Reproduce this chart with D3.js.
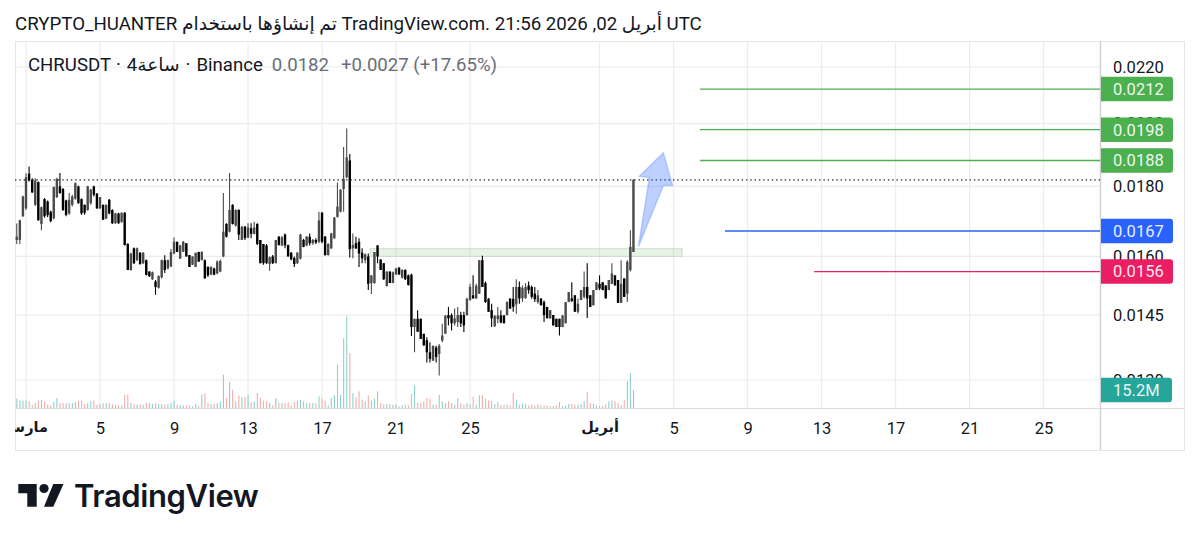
<!DOCTYPE html>
<html>
<head>
<meta charset="utf-8">
<script src="https://cdn.jsdelivr.net/npm/d3@7"></script>
<style>
    html, body { margin: 0; background: #fff; }
    svg { display: block; font-family: Roboto, "DejaVu Sans", sans-serif; }
</style>
</head>
<body>
<svg id="viz" width="1200" height="542"></svg>
<script>
// --- Data: prices are in 1e-5 USDT, one row = 10 four-hour candles ---
const opens = [
    1645,1645,1712,1735,1839,1820,1745,1813,1690,1762,
    1755,1725,1706,1768,1800,1792,1758,1720,1745,1763,
    1800,1762,1745,1730,1750,1800,1778,1735,1745,1705,
    1760,1730,1692,1720,1695,1722,1634,1564,1622,1590,
    1610,1582,1590,1560,1540,1534,1518,1545,1590,1568,
    1573,1608,1640,1594,1613,1636,1604,1578,1572,1612,
    1590,1590,1572,1552,1568,1555,1560,1600,1690,1668,
    1745,1685,1730,1645,1682,1652,1678,1662,1690,1645,
    1634,1630,1580,1600,1582,1654,1630,1660,1631,1610,
    1596,1582,1594,1645,1630,1654,1636,1645,1640,1722,
    1654,1604,1622,1650,1710,1725,1792,1828,1880,1622,
    1636,1640,1610,1590,1600,1530,1530,1630,1592,1582,
    1522,1560,1530,1552,1570,1544,1564,1550,1552,1421,
    1441,1441,1405,1390,1362,1343,1373,1358,1389,1405,
    1450,1450,1430,1433,1450,1450,1450,1487,1499,1491,
    1503,1590,1530,1490,1462,1423,1440,1449,1449,1450,
    1490,1490,1476,1520,1491,1492,1524,1520,1503,1482,
    1491,1482,1470,1442,1450,1441,1441,1421,1430,1482,
    1491,1499,1458,1487,1495,1520,1499,1474,1512,1528,
    1532,1524,1512,1528,1550,1538,1480,1542,1503,1564,
    1612
];
const highs = [
    1691,1702,1772,1840,1861,1825,1825,1815,1740,1765,
    1758,1728,1800,1826,1841,1795,1760,1780,1775,1812,
    1802,1764,1746,1802,1793,1802,1780,1768,1746,1746,
    1762,1732,1722,1722,1723,1724,1636,1610,1624,1624,
    1612,1612,1592,1561,1560,1538,1550,1592,1603,1592,
    1620,1652,1640,1632,1642,1636,1604,1600,1610,1613,
    1614,1592,1574,1574,1570,1590,1592,1780,1692,1841,
    1747,1732,1732,1684,1684,1692,1692,1696,1692,1645,
    1634,1634,1600,1604,1645,1656,1656,1663,1632,1612,
    1600,1612,1662,1648,1656,1663,1648,1650,1725,1724,
    1656,1636,1665,1710,1812,1792,1923,1984,1901,1663,
    1654,1650,1622,1608,1608,1550,1612,1631,1592,1582,
    1560,1560,1560,1570,1572,1566,1566,1552,1554,1441,
    1462,1441,1405,1397,1385,1377,1377,1381,1429,1449,
    1470,1454,1466,1470,1458,1458,1493,1528,1550,1528,
    1590,1602,1534,1492,1478,1450,1470,1462,1450,1484,
    1492,1520,1540,1534,1524,1530,1534,1524,1520,1512,
    1491,1486,1470,1462,1450,1441,1441,1450,1482,1507,
    1532,1499,1491,1512,1560,1582,1499,1512,1532,1550,
    1532,1524,1538,1582,1550,1538,1590,1542,1590,1672,
    1822
];
const lows = [
    1634,1634,1710,1730,1815,1780,1742,1700,1672,1708,
    1710,1695,1703,1765,1778,1728,1712,1716,1740,1760,
    1748,1716,1716,1728,1745,1770,1733,1733,1702,1704,
    1718,1690,1690,1690,1694,1630,1564,1562,1580,1588,
    1578,1580,1550,1546,1538,1500,1516,1542,1556,1566,
    1572,1606,1612,1594,1612,1600,1572,1577,1572,1586,
    1590,1542,1546,1550,1550,1553,1558,1598,1652,1666,
    1688,1683,1645,1645,1645,1650,1650,1660,1631,1582,
    1578,1580,1562,1580,1582,1630,1628,1622,1600,1590,
    1572,1580,1592,1625,1628,1630,1632,1634,1636,1636,
    1602,1602,1620,1648,1708,1723,1725,1825,1597,1595,
    1620,1572,1582,1582,1512,1502,1528,1582,1564,1538,
    1522,1530,1530,1552,1552,1542,1538,1524,1400,1362,
    1410,1393,1377,1339,1339,1343,1339,1310,1385,1405,
    1425,1413,1425,1421,1421,1409,1448,1485,1491,1490,
    1502,1520,1480,1458,1421,1421,1430,1430,1430,1449,
    1465,1458,1453,1478,1482,1490,1503,1490,1482,1478,
    1474,1433,1442,1441,1425,1421,1401,1421,1430,1482,
    1482,1458,1454,1487,1491,1443,1470,1474,1512,1512,
    1512,1491,1512,1528,1524,1480,1480,1495,1482,1560,
    1612
];
const closes = [
    1654,1700,1770,1828,1818,1782,1818,1700,1738,1712,
    1715,1698,1798,1823,1780,1730,1716,1760,1770,1810,
    1750,1720,1722,1800,1790,1775,1735,1768,1702,1745,
    1720,1692,1720,1692,1722,1631,1564,1608,1582,1622,
    1580,1610,1551,1548,1558,1520,1548,1590,1564,1590,
    1612,1640,1612,1630,1640,1600,1572,1600,1610,1586,
    1612,1542,1550,1572,1552,1586,1588,1668,1654,1730,
    1690,1730,1660,1682,1650,1680,1662,1680,1634,1582,
    1582,1582,1598,1582,1645,1631,1652,1630,1600,1592,
    1580,1610,1660,1626,1654,1636,1645,1638,1700,1640,
    1604,1634,1663,1708,1740,1790,1823,1890,1620,1631,
    1622,1608,1595,1606,1528,1550,1612,1600,1564,1540,
    1560,1530,1558,1568,1552,1564,1540,1525,1421,1441,
    1410,1393,1378,1362,1347,1377,1351,1377,1401,1449,
    1442,1430,1442,1450,1430,1425,1490,1520,1491,1523,
    1590,1520,1482,1458,1442,1448,1449,1432,1430,1482,
    1466,1470,1520,1491,1518,1520,1512,1495,1489,1499,
    1474,1450,1442,1462,1425,1421,1421,1449,1482,1507,
    1485,1458,1478,1512,1520,1491,1470,1512,1532,1516,
    1512,1491,1538,1555,1524,1480,1528,1495,1586,1626,
    1820
];
// volume in millions
const volumes = [
    7.9,6.2,6.2,6.2,5.6,2.8,4.2,6.2,7.0,5.6,
    2.8,2.2,5.1,8.4,4.2,4.2,4.2,4.2,4.2,5.1,
    6.2,6.2,3.4,4.2,5.6,6.2,2.8,3.4,4.2,4.2,
    4.2,3.4,2.8,2.2,2.2,11.2,11.2,4.2,3.4,2.8,
    2.8,2.8,4.2,4.2,3.4,4.2,3.4,3.4,2.8,3.4,
    4.2,6.2,2.8,2.2,2.2,2.2,2.2,1.4,3.4,1.4,
    11.2,12.6,4.2,3.4,3.4,4.2,5.6,28.1,8.4,21.9,
    15.5,5.6,10.7,9.3,9.3,11.2,5.1,5.6,12.6,8.4,
    6.2,5.6,4.2,2.2,8.4,4.2,4.2,4.2,5.1,2.2,
    5.1,6.2,7.0,5.6,4.2,4.2,4.2,4.2,9.8,7.9,
    6.2,2.2,8.4,10.7,36.5,11.2,59.0,77.3,46.4,12.6,
    9.3,14.1,7.0,5.6,10.7,6.2,7.9,14.1,4.2,3.4,
    3.4,3.4,2.8,2.8,1.4,2.2,2.8,2.2,11.8,19.1,
    4.2,4.2,5.6,8.4,7.9,2.8,2.8,11.2,5.6,4.2,
    5.6,4.2,2.8,8.4,4.2,2.8,4.2,3.4,9.3,2.8,
    10.7,10.7,7.9,6.2,6.2,3.4,5.1,2.8,2.8,2.8,
    2.2,12.6,7.0,2.8,3.9,3.4,2.2,2.8,2.2,3.4,
    2.2,2.2,2.2,1.7,1.7,2.2,5.1,1.7,2.2,3.4,
    3.4,2.8,2.8,3.4,5.6,13.5,4.2,3.4,2.2,1.7,
    1.7,2.8,5.6,6.2,5.6,4.2,2.2,7.0,22.5,29.5,
    15.2
];

// days counted from 1 March
const firstCandleDay = -0.5;
const tickDays = [0, 4, 8, 12, 16, 20, 24, 31, 35, 39, 43, 47, 51, 55];
const tickLabels = ["مارس", "5", "9", "13", "17", "21", "25", "أبريل", "5", "9", "13", "17", "21", "25"];
const monthLabels = ["مارس", "أبريل"];
const priceTicks = [2200, 2000, 1800, 1600, 1450, 1300];

const lastPrice = 1820;
const levelPrices = [2120, 1980, 1880, 1670, 1560];
const levelStartDays = [36.43, 36.43, 36.43, 37.78, 42.6];
const levelColors = ["#4caf50", "#4caf50", "#4caf50", "#2962ff", "#e91e63"];
const lastVolume = 15.2;

const zoneDays = [18.6, 35.46];
const zonePrices = [1621, 1600];
const arrowDays = [33.10, 34.45, 34.95, 34.45, 33.15, 33.69];
const arrowPrices = [1626, 1803, 1803, 1905, 1831, 1826];

const CONFIG = {
    left: 15, axisX: 1100, right: 1184, top: 41, paneBottom: 408, bottom: 450,
    colors: {
        grid: "#ececee", frame: "#e6e6e8", axis: "#cfcfd2", text: "#131722",
        up: "#4a4a4a", down: "#000000", volUp: "#8fd0ca", volDown: "#f3adab"
    }
};

const svg = d3.select("#viz");
const rows = d3.range(closes.length);

// --- Scales ---
const x = d3.scaleLinear().domain([-0.595, 58.05]).range([CONFIG.left, CONFIG.axisX]);
const y = d3.scaleLog().domain([2200, 1300]).range([67, 380]);
const yVol = d3.scaleLinear().domain([0, lastVolume]).range([CONFIG.paneBottom, 390]);
const candleX = i => x(firstCandleDay + i / 6);

// --- Frame & Grid ---
const defs = svg.append("defs");
defs.append("clipPath").attr("id", "plot").append("rect")
    .attr("x", CONFIG.left).attr("y", CONFIG.top)
    .attr("width", CONFIG.axisX - CONFIG.left).attr("height", CONFIG.bottom - CONFIG.top);

const frame = svg.append("g").attr("fill", "none");
frame.append("rect")
    .attr("x", CONFIG.left + 0.5).attr("y", CONFIG.top + 0.5)
    .attr("width", CONFIG.right - CONFIG.left).attr("height", CONFIG.bottom - CONFIG.top)
    .attr("stroke", CONFIG.colors.frame);

const grid = svg.append("g").attr("stroke", CONFIG.colors.grid).attr("stroke-width", 1.2);
grid.selectAll("line.v").data(tickDays).join("line")
    .attr("class", "v")
    .attr("x1", d => x(d)).attr("x2", d => x(d))
    .attr("y1", CONFIG.top).attr("y2", CONFIG.paneBottom);
grid.selectAll("line.h").data(priceTicks).join("line")
    .attr("class", "h")
    .attr("x1", CONFIG.left).attr("x2", CONFIG.axisX)
    .attr("y1", d => y(d)).attr("y2", d => y(d));

svg.append("line")
    .attr("x1", CONFIG.left).attr("x2", CONFIG.right)
    .attr("y1", CONFIG.paneBottom + 0.5).attr("y2", CONFIG.paneBottom + 0.5)
    .attr("stroke", "#dcdcde");
svg.append("line")
    .attr("x1", CONFIG.axisX + 0.5).attr("x2", CONFIG.axisX + 0.5)
    .attr("y1", CONFIG.top).attr("y2", CONFIG.bottom)
    .attr("stroke", CONFIG.colors.axis).attr("stroke-width", 1.4);

// --- Axes ---
const yAxis = svg.append("g")
    .attr("transform", `translate(${CONFIG.axisX},0)`)
    .call(d3.axisRight(y).tickValues(priceTicks).tickSize(0).tickPadding(13)
        .tickFormat(d => (d / 1e5).toFixed(4)));
yAxis.select(".domain").remove();
yAxis.selectAll("text")
    .attr("font-family", "Roboto, sans-serif").attr("font-size", 16.5).attr("fill", CONFIG.colors.text);

const xAxis = svg.append("g")
    .attr("transform", `translate(0,${CONFIG.paneBottom})`)
    .attr("clip-path", "url(#plotAxis)")
    .call(d3.axisBottom(x).tickValues(tickDays).tickSize(0).tickPadding(14)
        .tickFormat((d, i) => tickLabels[i]));
xAxis.select(".domain").remove();
xAxis.selectAll("text")
    .attr("font-family", "Roboto, 'DejaVu Sans', sans-serif")
    .attr("font-size", (d, i) => monthLabels.includes(tickLabels[i]) ? 14.5 : 16.5)
    .attr("fill", CONFIG.colors.text)
    .attr("font-weight", (d, i) => monthLabels.includes(tickLabels[i]) ? 700 : 400);
defs.append("clipPath").attr("id", "plotAxis").append("rect")
    .attr("x", CONFIG.left).attr("y", 0)
    .attr("width", CONFIG.axisX - CONFIG.left).attr("height", 60);

// --- Volume ---
const isUp = i => closes[i] >= opens[i];
svg.append("g").selectAll("rect").data(rows).join("rect")
    .attr("x", i => candleX(i) - 0.5)
    .attr("width", 1.1)
    .attr("y", i => yVol(volumes[i]))
    .attr("height", i => yVol(0) - yVol(volumes[i]))
    .attr("fill", i => isUp(i) ? CONFIG.colors.volUp : CONFIG.colors.volDown);

// --- Zone under the candles ---
svg.append("rect")
    .attr("x", x(zoneDays[0])).attr("width", x(zoneDays[1]) - x(zoneDays[0]))
    .attr("y", y(zonePrices[0])).attr("height", y(zonePrices[1]) - y(zonePrices[0]))
    .attr("fill", "#4caf50").attr("fill-opacity", 0.14)
    .attr("stroke", "#cfdccf").attr("stroke-width", 1);

// --- Candles ---
const candles = svg.append("g").attr("clip-path", "url(#plot)");
candles.selectAll("line").data(rows).join("line")
    .attr("x1", i => candleX(i)).attr("x2", i => candleX(i))
    .attr("y1", i => y(highs[i])).attr("y2", i => y(lows[i]))
    .attr("stroke", i => isUp(i) ? CONFIG.colors.up : CONFIG.colors.down)
    .attr("stroke-width", 1.1);
candles.selectAll("rect").data(rows).join("rect")
    .attr("x", i => candleX(i) - 1.2)
    .attr("width", 2.4)
    .attr("y", i => y(Math.max(opens[i], closes[i])))
    .attr("height", i => Math.max(1, Math.abs(y(opens[i]) - y(closes[i]))))
    .attr("fill", i => isUp(i) ? CONFIG.colors.up : CONFIG.colors.down);

// --- Last price line ---
svg.append("line")
    .attr("x1", CONFIG.left).attr("x2", CONFIG.axisX)
    .attr("y1", y(lastPrice)).attr("y2", y(lastPrice))
    .attr("stroke", "#222").attr("stroke-width", 1.3).attr("stroke-dasharray", "1.4 2.9");

// --- Arrow ---
const arrowLine = d3.line().x(d => x(d[0])).y(d => y(d[1])).curve(d3.curveLinearClosed);
svg.append("path")
    .attr("d", arrowLine(d3.zip(arrowDays, arrowPrices)))
    .attr("fill", "#2962ff").attr("fill-opacity", 0.3)
    .attr("stroke", "#2962ff").attr("stroke-opacity", 0.25).attr("stroke-width", 1.5);

// --- Levels with their axis labels ---
svg.append("g").selectAll("line").data(levelPrices).join("line")
    .attr("x1", (d, i) => x(levelStartDays[i])).attr("x2", CONFIG.axisX)
    .attr("y1", d => y(d)).attr("y2", d => y(d))
    .attr("stroke", (d, i) => levelColors[i]).attr("stroke-width", 1.3);

function axisLabel(cy, width, color, label) {
    const h = 24.5, r = 3, x0 = CONFIG.axisX + 1, y0 = cy - h / 2, x1 = x0 + width;
    svg.append("path")
        .attr("d", `M${x0},${y0}H${x1 - r}Q${x1},${y0} ${x1},${y0 + r}V${y0 + h - r}Q${x1},${y0 + h} ${x1 - r},${y0 + h}H${x0}Z`)
        .attr("fill", color);
    svg.append("text")
        .attr("x", CONFIG.axisX + 13).attr("y", cy).attr("dy", "0.36em")
        .attr("font-family", "Roboto, sans-serif").attr("font-size", 16.5)
        .attr("fill", "#fff").attr("fill-opacity", 0.92)
        .text(label);
}
levelPrices.forEach((d, i) => axisLabel(y(d), 72, levelColors[i], (d / 1e5).toFixed(4)));
axisLabel(yVol(lastVolume), 71, "#26a69a", lastVolume + "M");

// --- Titles ---
svg.append("text")
    .attr("x", 15).attr("y", 29.5)
    .attr("direction", "ltr")
    .attr("font-size", 18.7).attr("fill", CONFIG.colors.text)
    .text("CRYPTO_HUANTER تم إنشاؤها باستخدام TradingView.com. 21:56 2026 ,02 أبريل UTC");

const legend = svg.append("text")
    .attr("x", 28).attr("y", 70.5)
    .attr("direction", "ltr")
    .attr("font-size", 18.6).attr("fill", CONFIG.colors.text);
legend.append("tspan").text("CHRUSDT");
legend.append("tspan").attr("dx", 5).text("·");
legend.append("tspan").attr("dx", 6).text("4ساعة");
legend.append("tspan").attr("dx", 6).text("·");
legend.append("tspan").attr("dx", 6).text("Binance");
legend.append("tspan").attr("dx", 9).attr("fill", "#6a6d78").text("0.0182");
legend.append("tspan").attr("dx", 12).attr("fill", "#6a6d78").text("+0.0027 (+17.65%)");

// --- Logo ---
const logo = svg.append("g").attr("fill", "#131722");
logo.append("path").attr("d", "M18.3,484H36.7V506.7H27.3V493.3H18.3Z");
logo.append("circle").attr("cx", 44).attr("cy", 488.5).attr("r", 4.6);
logo.append("path").attr("d", "M53.3,484H63.5L53.3,506.7H44Z");
svg.append("text")
    .attr("x", 74).attr("y", 507)
    .attr("font-family", "Inter, Roboto, sans-serif").attr("font-weight", 600).attr("font-size", 31)
    .attr("letter-spacing", -0.4).attr("fill", "#131722")
    .text("TradingView");
</script>
</body>
</html>
